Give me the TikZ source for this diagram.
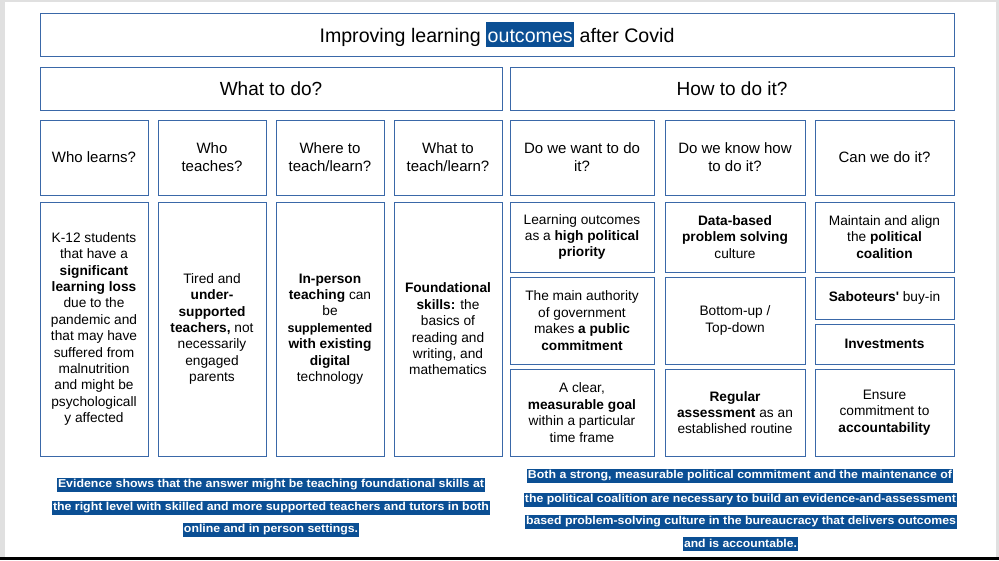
\documentclass[tikz,border=0pt]{standalone}
\usepackage{fontspec}
\setmainfont{Liberation Sans}
\usepackage{graphicx}
\definecolor{boxblue}{HTML}{3A68A8}
\definecolor{hlblue}{HTML}{0B4F94}
\newcommand{\fitto}[2]{\resizebox{#1pt}{\height}{#2}}

\begin{document}
\begin{tikzpicture}[x=1pt,y=-1pt,
  outline/.style={draw=boxblue, line width=1pt, align=center, inner sep=1pt},
  head/.style={outline, minimum height=43, font=\fontsize{19}{23}\selectfont},
  ask/.style={outline, minimum height=75, font=\fontsize{15}{18}\selectfont},
  cell/.style={outline, font=\fontsize{13.7}{16.4}\selectfont},
  hilite/.style={fill=hlblue, text=white, inner xsep=1pt, inner ysep=0pt,
    minimum height=14, font=\bfseries\fontsize{11.5}{13}\selectfont}]
  \useasboundingbox (0,0) rectangle (999,560);
  % page frame
  \fill[white]    (0,0) rectangle (999,560);
  \fill[black!12] (0,0) rectangle (5,560);
  \fill[black!12] (0,0) rectangle (999,1.5);
  \fill[black!12] (996,0) rectangle (999,560);
  \fill[black]    (0,557) rectangle (999,560);

  % title and the two halves
  \node[head, minimum width=914, text height=20pt, text depth=5pt,
    font=\fontsize{19.6}{23}\selectfont] (title) at (497,34.5)
    {Improving learning {\setlength{\fboxsep}{0pt}\colorbox{hlblue}{\textcolor{white}{\rule[-5pt]{0pt}{25pt}\hspace{1.5pt}outcomes\hspace{1.5pt}}}} after Covid};
  \node[head, minimum width=462] (what) at (271,88.5) {What to do?};
  \node[head, minimum width=444] (how)  at (732,88.5) {How to do it?};

  % questions
  \node[ask, minimum width=108] (q1) at (94,157.5)  {Who learns?};
  \node[ask, minimum width=108] (q2) at (212,157.5) {Who\\teaches?};
  \node[ask, minimum width=108] (q3) at (330,157.5) {Where to\\teach/learn?};
  \node[ask, minimum width=108] (q4) at (448,157.5) {What to\\teach/learn?};
  \node[ask, minimum width=144] (q5) at (582,157.5) {Do we want to do\\it?};
  \node[ask, minimum width=140] (q6) at (735,157.5) {Do we know how\\to do it?};
  \node[ask, minimum width=139] (q7) at (884.5,157.5) {Can we do it?};

  % what to do: answers
  \node[cell, minimum width=108, minimum height=254] (who) at (94,329)
    {K-12 students\\that have a\\\textbf{significant}\\\textbf{learning loss}\\due to the\\pandemic and\\that may have\\suffered from\\malnutrition\\and might be\\psychologicall\\y affected};
  \node[cell, minimum width=108, minimum height=254] (teach) at (212,329)
    {Tired and\\\textbf{under-}\\\textbf{supported}\\\textbf{teachers,} not\\necessarily\\engaged\\parents};
  \node[cell, minimum width=108, minimum height=254] (where) at (330,329)
    {\textbf{In-person}\\\textbf{teaching} can\\be\\{\fontsize{12.5}{16.4}\selectfont\textbf{supplemented}}\\\textbf{with existing}\\\textbf{digital}\\technology};
  \node[cell, minimum width=108, minimum height=254] (skills) at (448,329)
    {\textbf{Foundational}\\\textbf{skills:} the\\basics of\\reading and\\writing, and\\mathematics};

  % how to do it: answers
  \node[cell, minimum width=144, minimum height=70] (want1) at (582,237)
    {Learning outcomes\\as a \textbf{high political}\\\textbf{priority}};
  \node[cell, minimum width=144, minimum height=87] (want2) at (582,320.5)
    {The main authority\\of government\\makes \textbf{a public}\\\textbf{commitment}};
  \node[cell, minimum width=144, minimum height=87] (want3) at (582,412.5)
    {A clear,\\\textbf{measurable goal}\\within a particular\\time frame};
  \node[cell, minimum width=140, minimum height=70] (know1) at (735,237)
    {\textbf{Data-based}\\\textbf{problem solving}\\culture};
  \node[cell, minimum width=140, minimum height=87] (know2) at (735,320.5)
    {Bottom-up /\\Top-down};
  \node[cell, minimum width=140, minimum height=87] (know3) at (735,412.5)
    {\textbf{Regular}\\\textbf{assessment} as an\\established routine};
  \node[cell, minimum width=139, minimum height=70] (can1) at (884.5,237)
    {Maintain and align\\the \textbf{political}\\\textbf{coalition}};
  \node[cell, minimum width=139, minimum height=42] (can2) at (884.5,298)
    {\textbf{Saboteurs\textquotesingle} buy-in};
  \node[cell, minimum width=139, minimum height=40] (can3) at (884.5,344)
    {\textbf{Investments}};
  \node[cell, minimum width=139, minimum height=87] (can4) at (884.5,412.5)
    {Ensure\\commitment to\\\textbf{accountability}};

  % highlighted conclusions
  \node[hilite] (ev1) at (271,485)
    {\fitto{426}{Evidence shows that the answer might be teaching foundational skills at}};
  \node[hilite] (ev2) at (271,508)
    {\fitto{436}{the right level with skilled and more supported teachers and tutors in both}};
  \node[hilite] (ev3) at (271,530)
    {\fitto{174}{online and in person settings.}};
  \node[hilite] (both1) at (740,476)
    {\fitto{424}{Both a strong, measurable political commitment and the maintenance of}};
  \node[hilite] (both2) at (740.5,500)
    {\fitto{431}{the political coalition are necessary to build an evidence-and-assessment}};
  \node[hilite] (both3) at (741,522)
    {\fitto{430}{based problem-solving culture in the bureaucracy that delivers outcomes}};
  \node[hilite] (both4) at (740.5,543.5)
    {\fitto{113}{and is accountable.}};
\end{tikzpicture}
\end{document}
